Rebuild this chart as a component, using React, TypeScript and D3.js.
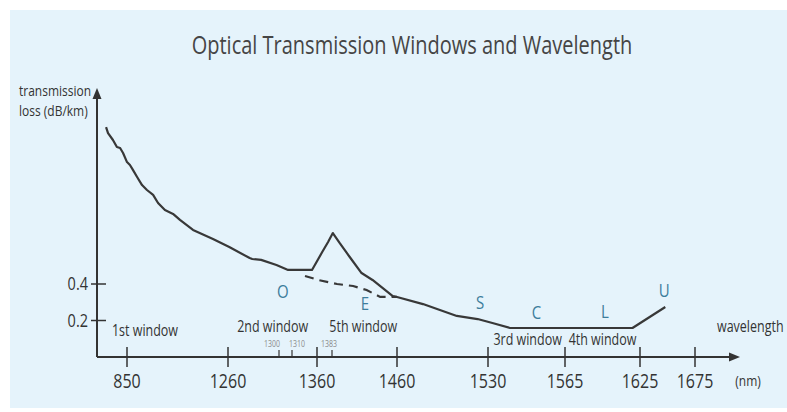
import React from "react"
import * as d3 from "d3"

// wavelength ticks (nm) - the drawing uses an uneven axis, so the scale is piecewise
const majorTicks = [850, 1260, 1360, 1460, 1530, 1565, 1625, 1675]
const minorTicks = [1300, 1310, 1383]
const axisStops = [850, 1260, 1300, 1310, 1360, 1383, 1460, 1530, 1565, 1625, 1675]
const lossTicks = [0.2, 0.4]

// attenuation curve (nm, dB/km)
const wavelength = [765, 773, 793, 809, 822, 834, 850, 862, 874, 891, 911, 931, 956, 976, 1004, 1037, 1065, 1118, 1199, 1261, 1277, 1279, 1286, 1298, 1307, 1350, 1368, 1377, 1384, 1392, 1404, 1418, 1431, 1455, 1460, 1480, 1493, 1506, 1522, 1532, 1540, 1619, 1648]
const loss = [1.26, 1.227, 1.189, 1.151, 1.145, 1.118, 1.068, 1.052, 1.025, 0.986, 0.942, 0.915, 0.888, 0.844, 0.805, 0.784, 0.751, 0.696, 0.647, 0.603, 0.542, 0.537, 0.532, 0.504, 0.477, 0.477, 0.575, 0.63, 0.679, 0.625, 0.548, 0.46, 0.422, 0.334, 0.329, 0.29, 0.258, 0.225, 0.208, 0.186, 0.159, 0.159, 0.274]

// low water peak fibre (dashed)
const lwpWavelength = [1336, 1362, 1389, 1408, 1424, 1440, 1460]
const lwpLoss = [0.444, 0.422, 0.4, 0.389, 0.367, 0.329, 0.329]

// bands
const bandNames = ["O", "E", "S", "C", "L", "U"]
const bandAt = [1303, 1422, 1524, 1552, 1597, 1647]
const bandLoss = [0.323, 0.258, 0.263, 0.208, 0.214, 0.329]

// windows
const windowNames = ["1st window", "2nd window", "5th window", "3rd window", "4th window"]
const windowAt = [923, 1295, 1420, 1548, 1595]
const windowLoss = [0.115, 0.137, 0.137, 0.066, 0.066]

const W = 787, H = 412
const SQ = 0.8 // the artwork's lettering is narrow

const Txt = ({x, y, size, anchor = "start", fill = "#333", children}: any) => (
  <text transform={`translate(${x},${y}) scale(${SQ},1)`} textAnchor={anchor}
    fontSize={size / SQ} fill={fill}>{children}</text>
)

export default function App() {
  const x = d3.scaleLinear()
    .domain(axisStops)
    .range([127, 228, 279, 292, 317, 332, 397, 488, 565, 640, 695])
  const y = d3.scaleLinear().domain([0, 1]).range([357, 174.5])

  const pts = wavelength.map((w, i) => [w, loss[i]] as [number, number])
  const lwp = lwpWavelength.map((w, i) => [w, lwpLoss[i]] as [number, number])
  const line = d3.line<[number, number]>().x(d => x(d[0])).y(d => y(d[1])).curve(d3.curveLinear)

  const x0 = 97, y0 = y(0)
  const xEnd = 740, yTop = 88
  const font = "'Open Sans', 'Noto Sans', sans-serif"
  const ink = "#333"
  const minorAnchor = ["end", "start", "middle"]
  const minorDx = [1, -3, -3]

  return (
    <svg width={W} height={H} style={{position: "absolute", left: 0, top: 0}} fontFamily={font}>
      <rect x={0} y={0} width={W} height={H} fill="#ffffff" />
      <rect x={10} y={10} width={W - 10} height={H - 14} fill="#e5f3fb" />

      <Txt x={412} y={54} size={20} anchor="middle" fill="#454545">
        Optical Transmission Windows and Wavelength
      </Txt>

      {/* axes */}
      <line x1={x0} y1={y0} x2={xEnd - 8} y2={y0} stroke={ink} strokeWidth={2} />
      <path d={`M${xEnd},${y0} L${xEnd - 11},${y0 - 4.5} L${xEnd - 11},${y0 + 4.5} Z`} fill={ink} />
      <line x1={x0} y1={y0} x2={x0} y2={yTop + 8} stroke={ink} strokeWidth={2} />
      <path d={`M${x0},${yTop} L${x0 - 4.5},${yTop + 11} L${x0 + 4.5},${yTop + 11} Z`} fill={ink} />

      {majorTicks.map(t => (
        <g key={t}>
          <line x1={x(t)} x2={x(t)} y1={y0 - 10} y2={y0 + 10} stroke={ink} strokeWidth={1.5} />
          <Txt x={x(t)} y={y0 + 31} size={16} anchor="middle">{t}</Txt>
        </g>
      ))}
      {minorTicks.map((t, i) => (
        <g key={t}>
          <line x1={x(t)} x2={x(t)} y1={y0 - 7} y2={y0} stroke={ink} strokeWidth={1.2} />
          <Txt x={x(t) + minorDx[i]} y={y0 - 10} size={7} anchor={minorAnchor[i]} fill="#8a8a8a">{t}</Txt>
        </g>
      ))}
      <Txt x={748} y={386} size={12} anchor="middle">(nm)</Txt>
      <Txt x={717} y={332} size={12.5}>wavelength</Txt>

      {lossTicks.map(t => (
        <g key={t}>
          <line x1={x0 - 6} x2={x0 + 9} y1={y(t)} y2={y(t)} stroke={ink} strokeWidth={1.5} />
          <Txt x={x0 - 9} y={y(t) + 6} size={14.5} anchor="end">{t.toFixed(1)}</Txt>
        </g>
      ))}
      <Txt x={19} y={96} size={12}>transmission</Txt>
      <Txt x={19} y={116} size={12}>loss (dB/km)</Txt>

      {/* curves */}
      <path d={line(pts) ?? ""} fill="none" stroke="#383838" strokeWidth={2.2} strokeLinejoin="round" />
      <path d={line(lwp) ?? ""} fill="none" stroke="#383838" strokeWidth={2.2} strokeDasharray="9,6" />

      {bandNames.map((b, i) => (
        <Txt key={b} x={x(bandAt[i])} y={y(bandLoss[i])} size={15} anchor="middle" fill="#3d7d9c">{b}</Txt>
      ))}
      {windowNames.map((n, i) => (
        <Txt key={n} x={x(windowAt[i])} y={y(windowLoss[i])} size={12.5} anchor="middle">{n}</Txt>
      ))}
    </svg>
  )
}
